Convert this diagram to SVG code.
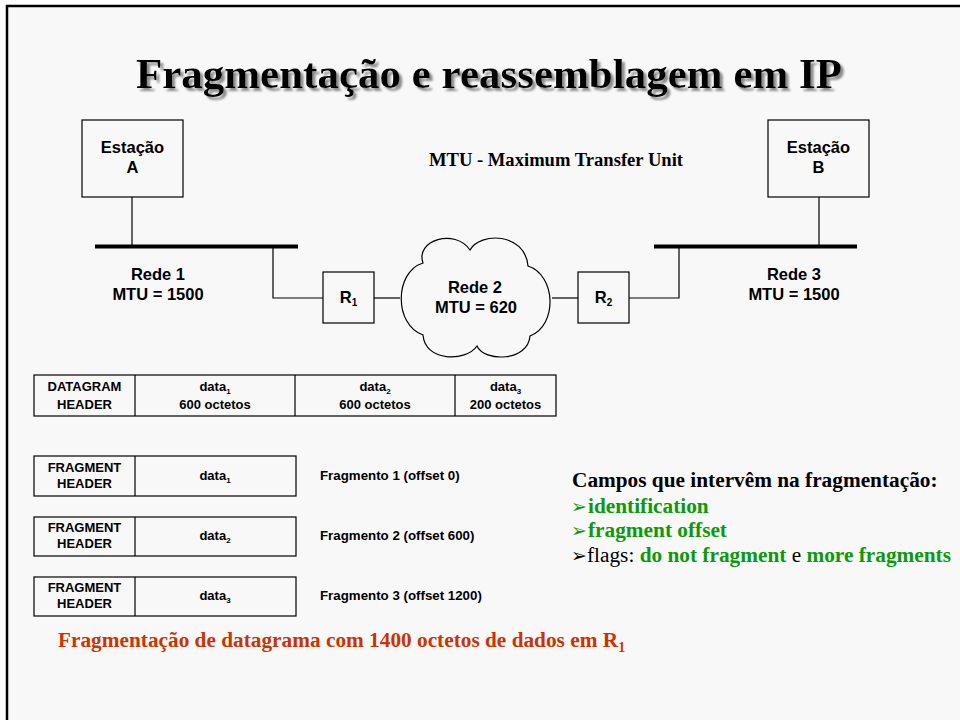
<svg xmlns="http://www.w3.org/2000/svg" width="960" height="720" viewBox="0 0 960 720">
<defs>
<filter id="shadow" x="-5%" y="-20%" width="110%" height="150%">
<feOffset in="SourceAlpha" dx="3" dy="3" result="off"/>
<feGaussianBlur in="off" stdDeviation="0.8" result="blur"/>
<feFlood flood-color="#8c8c8c"/>
<feComposite in2="blur" operator="in" result="sh"/>
<feMerge><feMergeNode in="sh"/><feMergeNode in="SourceGraphic"/></feMerge>
</filter>
<style>
.ln{stroke:#000;stroke-width:1.2;fill:none}
.bus{stroke:#000;stroke-width:4;fill:none}
.box{stroke:#000;stroke-width:1.2;fill:#f8f8f8}
.sans{font-family:"Liberation Sans",Arial,sans-serif;font-weight:bold;fill:#000}
.lbl{font-size:16.5px;text-anchor:middle}
.tbl{font-size:13px;text-anchor:middle}
.frag{font-size:13.3px}
.serif{font-family:"Liberation Serif","Times New Roman",serif}
.g{fill:#0a9a0a;font-weight:bold}
.bul{font-family:"DejaVu Sans",sans-serif;font-size:19px}
</style>
</defs>
<rect x="0" y="0" width="960" height="720" fill="#ffffff"/>
<rect x="7" y="6" width="1000" height="1000" fill="#f8f8f8" stroke="#000" stroke-width="2.5"/>

<g id="title">
<text x="489" y="88" text-anchor="middle" class="serif" font-weight="bold" font-size="43" fill="#000" filter="url(#shadow)">Fragmentação e reassemblagem em IP</text>
</g>

<g id="mtu-note">
<text x="556" y="166" text-anchor="middle" class="serif" font-weight="bold" font-size="18.6" fill="#000">MTU - Maximum Transfer Unit</text>
</g>

<g id="connectors">
<line class="ln" x1="132" y1="197" x2="132" y2="246"/>
<line class="bus" x1="95" y1="246.5" x2="298" y2="246.5"/>
<polyline class="ln" points="273,246 273,298 323,298"/>
<line class="ln" x1="374" y1="298" x2="400" y2="298"/>
<line class="ln" x1="552" y1="298" x2="578" y2="298"/>
<polyline class="ln" points="629,298 679,298 679,246"/>
<line class="bus" x1="654" y1="246.5" x2="857" y2="246.5"/>
<line class="ln" x1="819" y1="197" x2="819" y2="246"/>
</g>

<g id="estacao-a">
<rect class="box" x="82" y="120" width="101" height="77"/>
<text class="sans lbl" x="132.5" y="153">Estação</text>
<text class="sans lbl" x="132.5" y="173">A</text>
</g>

<g id="estacao-b">
<rect class="box" x="768" y="120" width="101" height="77"/>
<text class="sans lbl" x="818.5" y="153">Estação</text>
<text class="sans lbl" x="818.5" y="173">B</text>
</g>

<g id="rede1">
<text class="sans lbl" x="158" y="280">Rede 1</text>
<text class="sans lbl" x="158" y="300">MTU = 1500</text>
</g>

<g id="rede3">
<text class="sans lbl" x="794" y="280">Rede 3</text>
<text class="sans lbl" x="794" y="300">MTU = 1500</text>
</g>

<g id="r1">
<rect class="box" x="323" y="272" width="51" height="51"/>
<text class="sans lbl" x="348.5" y="303">R<tspan font-size="10" dy="3">1</tspan></text>
</g>

<g id="r2">
<rect class="box" x="578" y="272" width="51" height="51"/>
<text class="sans lbl" x="603.5" y="303">R<tspan font-size="10" dy="3">2</tspan></text>
</g>

<g id="rede2">
<path class="box" d="M423,263 C415,240 455,228 470,250 C480,232 525,232 528,266 C556,275 558,325 530,336 C528,362 484,362 477,346 C466,362 425,362 423,335 C394,325 394,272 423,263 Z"/>
<text class="sans lbl" x="475" y="293">Rede 2</text>
<text class="sans lbl" x="476" y="313">MTU = 620</text>
</g>

<g id="datagram">
<rect class="box" x="34" y="375" width="522" height="41"/>
<line class="ln" x1="135" y1="375" x2="135" y2="416"/>
<line class="ln" x1="295" y1="375" x2="295" y2="416"/>
<line class="ln" x1="455" y1="375" x2="455" y2="416"/>
<text class="sans tbl" x="84.5" y="391">DATAGRAM</text>
<text class="sans tbl" x="84.5" y="409">HEADER</text>
<text class="sans tbl" x="215" y="391">data<tspan font-size="8" dy="3">1</tspan></text>
<text class="sans tbl" x="215" y="409">600 octetos</text>
<text class="sans tbl" x="375" y="391">data<tspan font-size="8" dy="3">2</tspan></text>
<text class="sans tbl" x="375" y="409">600 octetos</text>
<text class="sans tbl" x="505.5" y="391">data<tspan font-size="8" dy="3">3</tspan></text>
<text class="sans tbl" x="505.5" y="409">200 octetos</text>
</g>

<g id="fragmento1">
<rect class="box" x="34" y="456" width="262" height="40"/>
<line class="ln" x1="135" y1="456" x2="135" y2="496"/>
<text class="sans tbl" x="84.5" y="472">FRAGMENT</text>
<text class="sans tbl" x="84.5" y="488">HEADER</text>
<text class="sans tbl" x="215" y="480">data<tspan font-size="8" dy="3">1</tspan></text>
<text class="sans frag" x="320" y="480">Fragmento 1 (offset 0)</text>
</g>

<g id="fragmento2">
<rect class="box" x="34" y="517" width="262" height="39"/>
<line class="ln" x1="135" y1="517" x2="135" y2="556"/>
<text class="sans tbl" x="84.5" y="532">FRAGMENT</text>
<text class="sans tbl" x="84.5" y="548">HEADER</text>
<text class="sans tbl" x="215" y="540">data<tspan font-size="8" dy="3">2</tspan></text>
<text class="sans frag" x="320" y="540">Fragmento 2 (offset 600)</text>
</g>

<g id="fragmento3">
<rect class="box" x="34" y="577" width="262" height="39"/>
<line class="ln" x1="135" y1="577" x2="135" y2="616"/>
<text class="sans tbl" x="84.5" y="592">FRAGMENT</text>
<text class="sans tbl" x="84.5" y="608">HEADER</text>
<text class="sans tbl" x="215" y="600">data<tspan font-size="8" dy="3">3</tspan></text>
<text class="sans frag" x="320" y="600">Fragmento 3 (offset 1200)</text>
</g>

<g id="campos">
<text class="serif" x="572" y="487" font-size="21.3" font-weight="bold" fill="#000">Campos que intervêm na fragmentação:</text>
<text class="bul" x="571" y="513" fill="#0a9a0a">➢</text>
<text class="serif g" x="588" y="513" font-size="21.3">identification</text>
<text class="bul" x="571" y="537" fill="#0a9a0a">➢</text>
<text class="serif g" x="588" y="537" font-size="21.3">fragment offset</text>
<text class="bul" x="571" y="562" fill="#000">➢</text>
<text class="serif" x="587" y="562" font-size="21.3" fill="#000">flags: <tspan class="g">do not fragment</tspan> e <tspan class="g">more fragments</tspan></text>
</g>

<g id="nota">
<text class="serif" x="58" y="647" font-size="21.3" font-weight="bold" fill="#cc3300">Fragmentação de datagrama com 1400 octetos de dados em R<tspan font-size="14" dy="5">1</tspan></text>
</g>
</svg>
